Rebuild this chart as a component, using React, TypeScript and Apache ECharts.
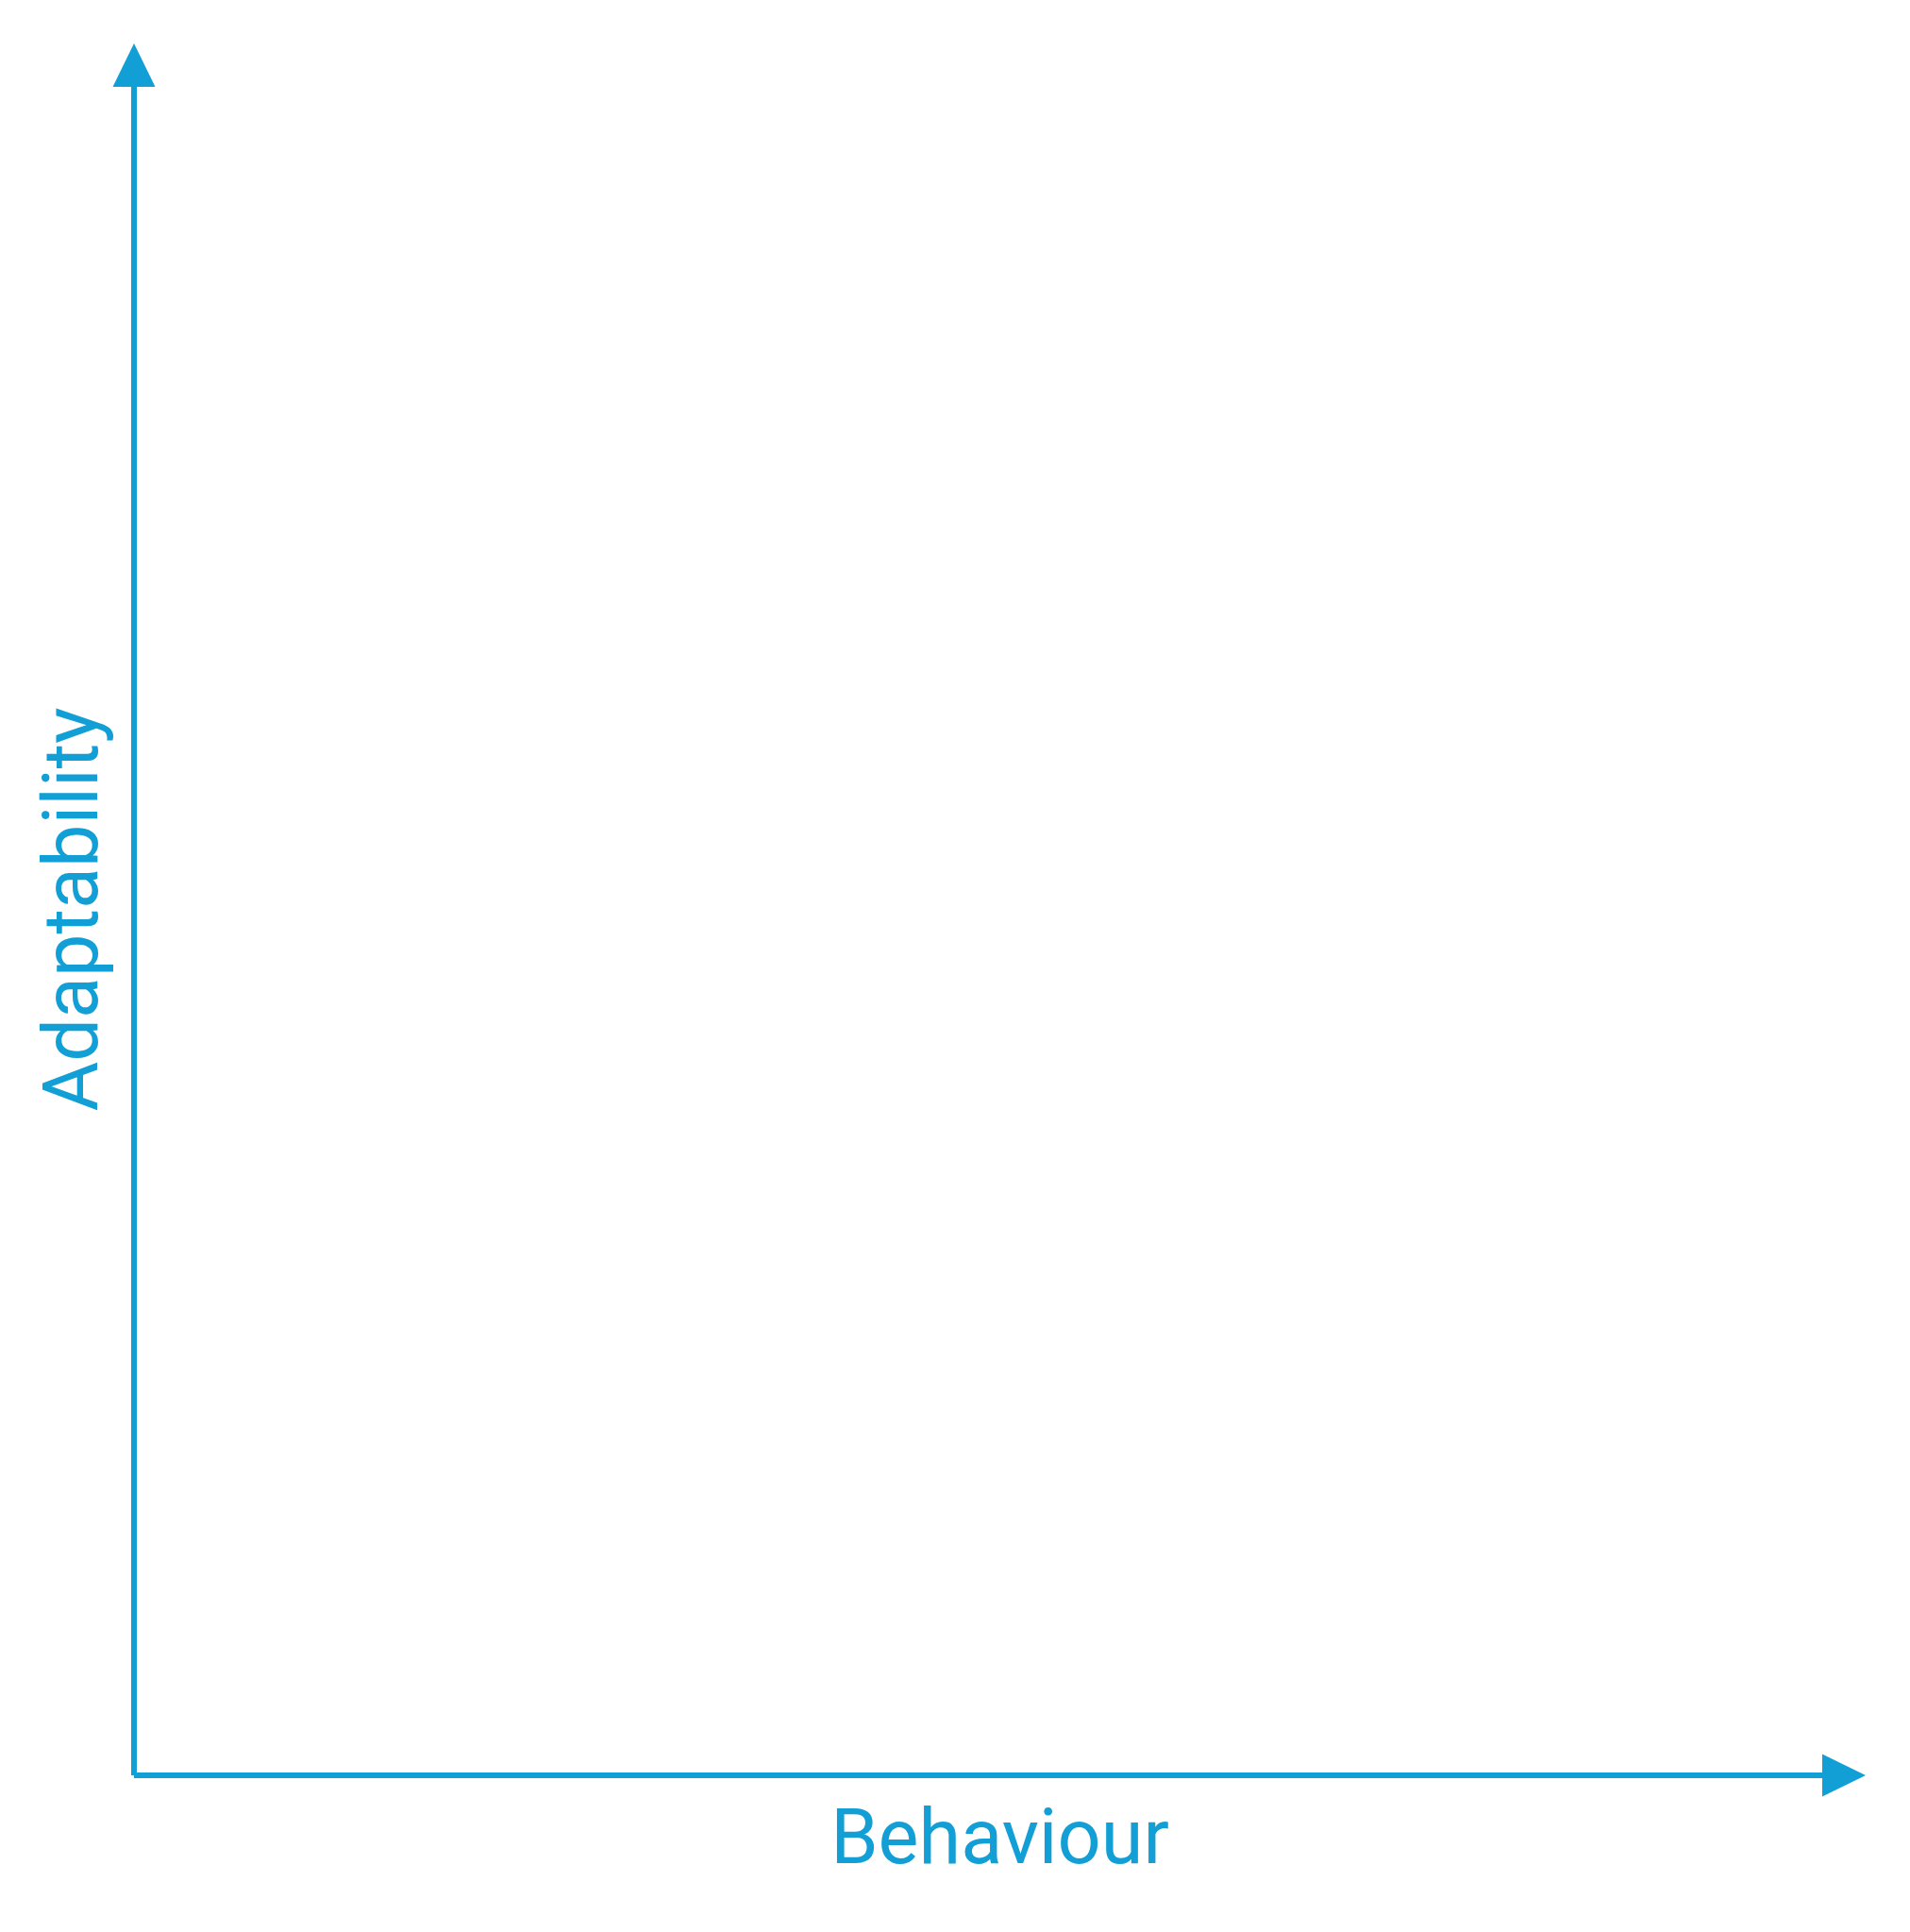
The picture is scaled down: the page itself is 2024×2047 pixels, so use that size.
import React, { useEffect, useRef } from "react";
import * as echarts from "echarts";

// Axis titles (the reference chart shows only the two labelled axes, no marks)
const xAxisTitle = "Behaviour";
const yAxisTitle = "Adaptability";
const xRange = [0, 10];
const yRange = [0, 10];
const points: [number, number][] = [];

const COLOR = "#129fd6";

export default function App() {
  const ref = useRef<HTMLDivElement>(null);
  useEffect(() => {
    if (!ref.current) return;
    const chart = echarts.init(ref.current, undefined, { renderer: "svg" });
    const axisCommon = {
      type: "value" as const,
      nameLocation: "middle" as const,
      axisLabel: { show: false },
      axisTick: { show: false },
      splitLine: { show: false },
      axisLine: {
        show: true,
        symbol: ["none", "triangle"],
        symbolSize: [45, 46],
        symbolOffset: [0, 23],
        lineStyle: { color: COLOR, width: 6, cap: "butt" },
      },
    };
    chart.setOption({
      animation: false,
      backgroundColor: "#ffffff",
      grid: { left: 142, top: 92, right: 93, bottom: 166, containLabel: false },
      xAxis: {
        ...axisCommon,
        name: xAxisTitle,
        nameGap: 25,
        min: xRange[0],
        max: xRange[1],
        nameTextStyle: { color: COLOR, fontSize: 81, fontFamily: "Roboto", padding: [0, 0, 0, 46] },
      },
      yAxis: {
        ...axisCommon,
        name: yAxisTitle,
        nameGap: 26,
        min: yRange[0],
        max: yRange[1],
        nameTextStyle: { color: COLOR, fontSize: 81, fontFamily: "Roboto", padding: [0, 0, 0, 46] },
      },
      series: [{ type: "scatter", data: points }],
    });
    return () => chart.dispose();
  }, []);
  return (
    <div
      ref={ref}
      style={{ position: "fixed", left: 0, top: 0, width: 2024, height: 2047 }}
    />
  );
}
